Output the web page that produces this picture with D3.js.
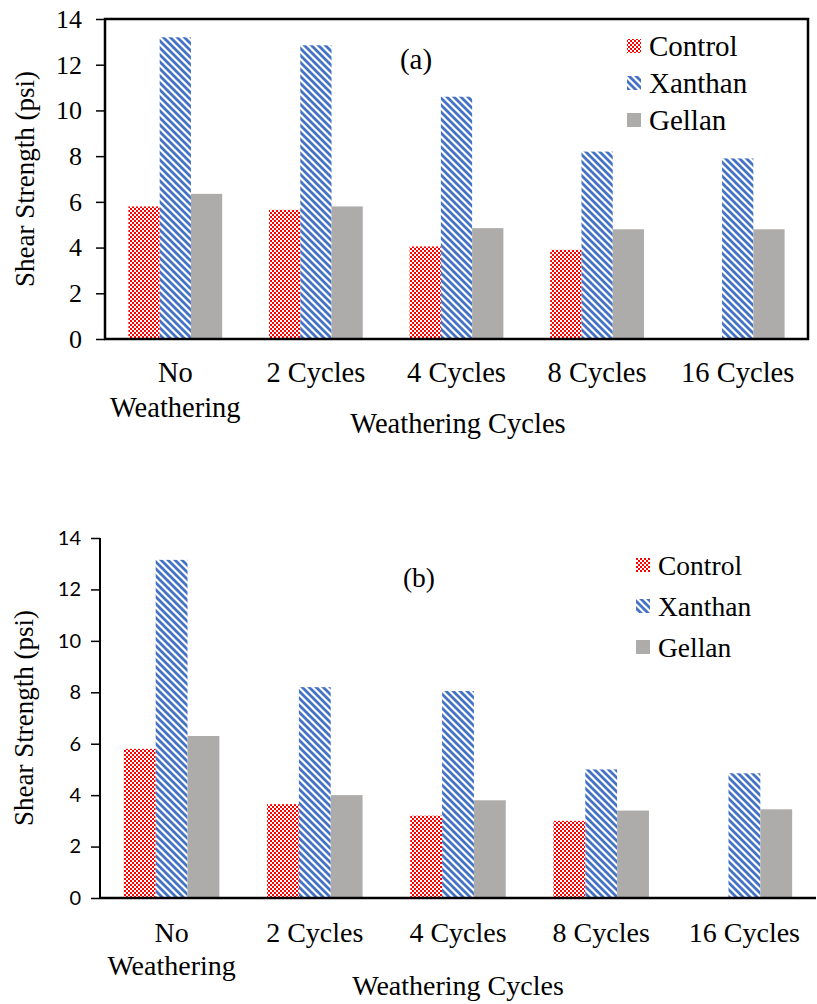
<!DOCTYPE html>
<html>
<head>
<meta charset="utf-8">
<script src="https://cdn.jsdelivr.net/npm/d3@7"></script>
<style>
  html, body { margin: 0; padding: 0; background: #fff; }
  svg { display: block; }
</style>
</head>
<body>
<svg id="chart" width="817" height="1004"></svg>
<script>
// Weathering cycle categories (two-line label for the first one)
const categories = ["No\nWeathering", "2 Cycles", "4 Cycles", "8 Cycles", "16 Cycles"];
const seriesNames = ["Control", "Xanthan", "Gellan"];
const yTicks = [0, 2, 4, 6, 8, 10, 12, 14];

// Panel (a) shear strength, psi
const controlA = [5.8, 5.65, 4.05, 3.9, null];
const xanthanA = [13.2, 12.85, 10.6, 8.2, 7.9];
const gellanA  = [6.35, 5.8, 4.85, 4.8, 4.8];

// Panel (b) shear strength, psi
const controlB = [5.8, 3.65, 3.2, 3.0, null];
const xanthanB = [13.15, 8.2, 8.05, 5.0, 4.85];
const gellanB  = [6.3, 4.0, 3.8, 3.4, 3.45];

const SERIF = "'Times New Roman', 'Liberation Serif', Times, serif";

const svg = d3.select("#chart");
const defs = svg.append("defs");

// Red checker fill for Control
const pc = defs.append("pattern").attr("id", "pat-control")
  .attr("patternUnits", "userSpaceOnUse").attr("width", 4).attr("height", 4);
pc.append("rect").attr("width", 4).attr("height", 4).attr("fill", "#ff0000");
pc.append("rect").attr("x", 0).attr("y", 0).attr("width", 2).attr("height", 2).attr("fill", "#fff").attr("shape-rendering", "crispEdges");
pc.append("rect").attr("x", 2).attr("y", 2).attr("width", 2).attr("height", 2).attr("fill", "#fff").attr("shape-rendering", "crispEdges");

// Blue downward-diagonal stripes for Xanthan
const px = defs.append("pattern").attr("id", "pat-xanthan")
  .attr("patternUnits", "userSpaceOnUse").attr("width", 7).attr("height", 7);
px.append("rect").attr("width", 7).attr("height", 7).attr("fill", "#fff");
px.append("path").attr("d", "M-1,-1 L8,8 M-1,6 L1,8 M6,-1 L8,1")
  .attr("stroke", "#4472c4").attr("stroke-width", 2.8);

const fills = ["url(#pat-control)", "url(#pat-xanthan)", "#aeabab"];

function drawPanel(cfg) {
  const g = svg.append("g");
  const x = d3.scaleBand().domain(categories).range([cfg.left, cfg.right]).paddingInner(0).paddingOuter(0);
  const groupWidth = x.bandwidth() * 0.667;
  const xs = d3.scaleBand().domain(seriesNames).range([0, groupWidth]).padding(0);
  const y = d3.scaleLinear().domain([0, 14]).range([cfg.bottom, cfg.top]);

  const series = [cfg.control, cfg.xanthan, cfg.gellan];

  // Bars
  series.forEach((vals, si) => {
    g.append("g").selectAll("rect")
      .data(categories.map((c, i) => ({ c, v: vals[i] })).filter(d => d.v != null))
      .join("rect")
      .attr("x", d => x(d.c) + (x.bandwidth() - groupWidth) / 2 + xs(seriesNames[si]))
      .attr("y", d => y(d.v))
      .attr("width", xs.bandwidth())
      .attr("height", d => y(0) - y(d.v))
      .attr("fill", fills[si]);
  });

  // Y axis
  const yAxis = d3.axisLeft(y).tickValues(yTicks).tickSize(9).tickPadding(cfg.tickPad).tickFormat(d3.format("d"));
  const ya = g.append("g").attr("transform", `translate(${cfg.left},0)`).call(yAxis);
  ya.select(".domain").remove();
  ya.selectAll(".tick line").attr("stroke", "#000").attr("stroke-width", 1.5);
  ya.selectAll(".tick text").attr("fill", "#000")
    .style("font-family", cfg.tickFont).style("font-size", cfg.tickSize + "px");

  if (cfg.box) {
    g.append("rect").attr("x", cfg.left).attr("y", cfg.top)
      .attr("width", cfg.right - cfg.left).attr("height", cfg.bottom - cfg.top)
      .attr("fill", "none").attr("stroke", "#000").attr("stroke-width", 2.5);
  } else {
    g.append("line").attr("x1", cfg.left).attr("x2", cfg.left).attr("y1", cfg.top).attr("y2", cfg.bottom)
      .attr("stroke", "#000").attr("stroke-width", 2);
    g.append("line").attr("x1", cfg.left).attr("x2", cfg.right).attr("y1", cfg.bottom).attr("y2", cfg.bottom)
      .attr("stroke", "#000").attr("stroke-width", 2.5);
  }

  // Category labels
  categories.forEach(c => {
    const lines = c.split("\n");
    const cx = x(c) + x.bandwidth() / 2;
    const t = g.append("text").attr("text-anchor", "middle")
      .attr("x", cx).attr("y", cfg.catY)
      .style("font-family", SERIF)
      .style("font-size", cfg.labelSize + "px").attr("fill", "#000");
    lines.forEach((l, i) => t.append("tspan").attr("x", cx).attr("dy", i ? cfg.lineGap : 0).text(l));
  });

  // Axis titles
  g.append("text").attr("text-anchor", "middle")
    .attr("x", cfg.xTitleX).attr("y", cfg.xTitleY)
    .style("font-family", SERIF).style("font-size", cfg.labelSize + "px")
    .text("Weathering Cycles");
  g.append("text").attr("text-anchor", "middle")
    .attr("transform", `translate(${cfg.yTitleX},${(cfg.top + cfg.bottom) / 2}) rotate(-90)`)
    .style("font-family", SERIF).style("font-size", cfg.yTitleSize + "px")
    .text("Shear Strength (psi)");

  // Panel tag
  g.append("text").attr("text-anchor", "middle")
    .attr("x", cfg.tagX).attr("y", cfg.tagY)
    .style("font-family", SERIF).style("font-size", cfg.legSize + "px")
    .text(cfg.tag);

  // Legend
  seriesNames.forEach((s, i) => {
    const ly = cfg.legY + i * cfg.legGap;
    g.append("rect").attr("x", cfg.legX).attr("y", ly - 7).attr("width", 14).attr("height", 14)
      .attr("fill", fills[i]);
    g.append("text").attr("x", cfg.legX + 22).attr("y", ly).attr("dy", "0.35em")
      .style("font-family", SERIF).style("font-size", cfg.legSize + "px")
      .text(s);
  });
}

drawPanel({
  left: 105, right: 808, top: 19, bottom: 339,
  control: controlA, xanthan: xanthanA, gellan: gellanA,
  box: true,
  tickFont: SERIF, tickSize: 26, tickPad: 14,
  labelSize: 28.5, catY: 382, lineGap: 35, yTitleSize: 27,
  xTitleX: 458, xTitleY: 433, yTitleX: 34,
  tag: "(a)", tagX: 416, tagY: 69,
  legX: 627, legY: 46, legGap: 37, legSize: 29
});

drawPanel({
  left: 100, right: 816, top: 538, bottom: 898,
  control: controlB, xanthan: xanthanB, gellan: gellanB,
  box: false,
  tickFont: "Lato, 'Noto Sans', sans-serif", tickSize: 20, tickPad: 10,
  labelSize: 28, catY: 942, lineGap: 33, yTitleSize: 27,
  xTitleX: 458, xTitleY: 995, yTitleX: 33,
  tag: "(b)", tagX: 419, tagY: 587,
  legX: 636, legY: 565, legGap: 41, legSize: 27.5
});
</script>
</body>
</html>
